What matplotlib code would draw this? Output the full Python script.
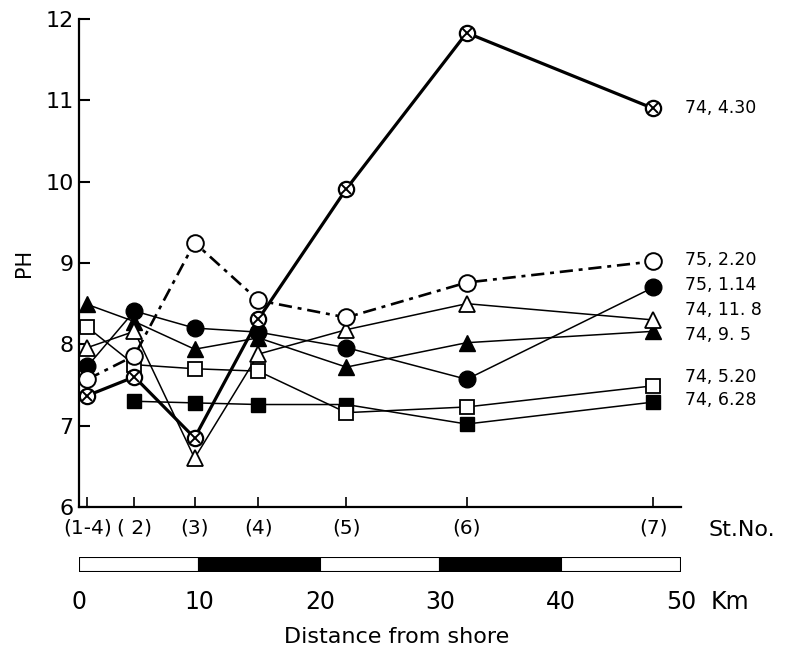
import matplotlib
matplotlib.use("Agg")
import matplotlib.pyplot as plt

# station positions (km from shore) and names
station_km = [0.7, 4.6, 9.6, 14.9, 22.2, 32.2, 47.7]
station_names = ["(1-4)", "( 2)", "(3)", "(4)", "(5)", "(6)", "(7)"]

# pH per survey date
ph_7443 = [7.37, 7.60, 6.85, 8.31, 9.91, 11.83, 10.90]
ph_7522 = [7.57, 7.86, 9.25, 8.54, 8.33, 8.76, 9.02]
ph_7511 = [7.73, 8.41, 8.20, 8.15, 7.96, 7.57, 8.70]
ph_74118 = [7.96, 8.16, 6.60, 7.88, 8.18, 8.50, 8.30]
ph_7495 = [8.49, 8.28, 7.94, 8.08, 7.72, 8.02, 8.16]
ph_74520 = [8.21, 7.75, 7.70, 7.67, 7.16, 7.23, 7.49]
ph_74628 = [7.30, 7.28, 7.26, 7.26, 7.02, 7.29]  # from st. (2)

labels = ["74, 4.30", "75, 2.20", "75, 1.14", "74, 11. 8", "74, 9. 5",
          "74, 5.20", "74, 6.28"]
label_y = [10.90, 9.04, 8.73, 8.42, 8.12, 7.60, 7.32]

km_ticks = [0, 10, 20, 30, 40, 50]

plt.rcParams["font.family"] = ["DejaVu Sans"]

fig = plt.figure(figsize=(7.94, 6.59), dpi=100)
ax = fig.add_axes([79 / 794, 1 - 507 / 659, 602 / 794, 488 / 659])

k = "black"
thin = 1.1
# 74,4.30: circle with cross, heavy line
ax.plot(station_km, ph_7443, color=k, lw=2.3, marker="o", ms=11,
        mfc="white", mec=k, mew=1.6, zorder=5)
ax.plot(station_km, ph_7443, ls="none", marker="x", ms=6.5, mec=k, mew=1.4,
        zorder=6)
# 75,2.20: open circle, dash-dot
ax.plot(station_km, ph_7522, color=k, lw=1.9, dashes=(5, 2.2, 1.5, 2.2),
        marker="o", ms=12, mfc="white", mec=k, mew=1.4, zorder=4)
# 75,1.14: filled circle
ax.plot(station_km, ph_7511, color=k, lw=thin, marker="o", ms=12,
        mfc=k, mec=k, zorder=3)
# 74,11.8: open triangle
ax.plot(station_km, ph_74118, color=k, lw=thin, marker="^", ms=12,
        mfc="white", mec=k, mew=1.3, zorder=3)
# 74,9.5: filled triangle
ax.plot(station_km, ph_7495, color=k, lw=thin, marker="^", ms=12,
        mfc=k, mec=k, zorder=2)
# 74,5.20: open square
ax.plot(station_km, ph_74520, color=k, lw=thin, marker="s", ms=10,
        mfc="white", mec=k, mew=1.3, zorder=3)
# 74,6.28: filled square
ax.plot(station_km[1:], ph_74628, color=k, lw=thin, marker="s", ms=10,
        mfc=k, mec=k, zorder=2)

for text, y in zip(labels, label_y):
    ax.text(50.3, y, text, fontsize=12.5, va="center", ha="left",
            clip_on=False)

ax.set_xlim(0, 50)
ax.set_ylim(6, 12)
for side in ["top", "right"]:
    ax.spines[side].set_visible(False)
ax.spines["left"].set_linewidth(1.6)
ax.spines["bottom"].set_linewidth(1.6)
ax.set_yticks(range(6, 13))
ax.set_yticklabels([str(v) for v in range(6, 13)], fontsize=16)
ax.set_xticks(station_km)
ax.set_xticklabels(station_names, fontsize=14.5)
ax.tick_params(axis="y", direction="in", length=8, width=1.5, pad=4)
ax.tick_params(axis="x", direction="in", length=7, width=1.2, pad=8)
ax.set_ylabel("PH", fontsize=15, labelpad=8)
ax.text(52.3, 5.72, "St.No.", fontsize=16, va="center", ha="left",
        clip_on=False)

# scale bar
bar = fig.add_axes([79 / 794, 1 - 572 / 659, 602 / 794, 15 / 659])
for i in range(len(km_ticks) - 1):
    fill = k if i % 2 == 1 else "white"
    bar.barh(0, km_ticks[i + 1] - km_ticks[i], left=km_ticks[i], height=1,
             color=fill, edgecolor=k, lw=1.5)
bar.set_xlim(0, 50)
bar.set_ylim(-0.5, 0.5)
bar.axis("off")
for v in km_ticks:
    bar.text(v, -2.5, str(v), fontsize=17, ha="center", va="center")
bar.text(52.5, -2.5, "Km", fontsize=17, ha="left", va="center")
fig.text(0.5, 1 - 637 / 659, "Distance from shore", fontsize=16,
         ha="center", va="center")

fig.savefig("out.png", dpi=100)
